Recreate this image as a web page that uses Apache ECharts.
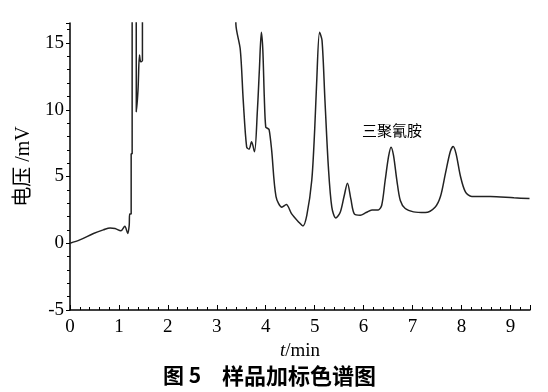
<!DOCTYPE html>
<html>
<head>
<meta charset="utf-8">
<script src="https://cdn.jsdelivr.net/npm/echarts@6/dist/echarts.min.js"></script>
<style>html,body{margin:0;padding:0;background:#fff;}#c{width:548px;height:392px;}</style>
</head>
<body>
<div id="c"></div>
<script>
// Retention time (min)
var timeMin = [0, 0.2, 0.48, 0.68, 0.82, 0.92, 1.04, 1.12, 1.18, 1.21, 1.22, 1.25, 1.25, 1.27, 1.27,
  1.35, 1.355, 1.39, 1.42, 1.445, 1.48, 1.48, 3.35,
  3.39, 3.48, 3.54, 3.61, 3.66, 3.71, 3.77, 3.83, 3.87, 3.91, 3.94, 3.97, 4.00, 4.04, 4.07, 4.12,
  4.21, 4.33, 4.42, 4.53, 4.67, 4.76, 4.84, 4.94, 5.00, 5.04, 5.10, 5.15, 5.21, 5.28, 5.35, 5.43,
  5.52, 5.60, 5.67, 5.74, 5.81, 5.93, 6.05, 6.17, 6.30, 6.37, 6.44, 6.51, 6.56, 6.61, 6.68, 6.75,
  6.85, 7.02, 7.26, 7.46, 7.57, 7.67, 7.77, 7.83, 7.89, 7.98, 8.08, 8.21, 8.59, 9.07, 9.39];
// Detector voltage (mV); values above the axis range are off-scale peaks
var voltage = [0, 0.25, 0.73, 1.0, 1.15, 1.1, 0.93, 1.28, 0.73, 1.35, 2.2, 2.2, 6.7, 6.7, 30,
  30, 9.85, 11.5, 14.1, 13.6, 13.7, 30, 30,
  16.4, 14.5, 10.7, 7.2, 7.05, 7.6, 6.85, 10.0, 13.0, 15.8, 14.5, 11.0, 8.7, 8.6, 8.5, 7.0,
  3.5, 2.7, 2.9, 2.2, 1.6, 1.3, 2.1, 4.7, 8.5, 12.0, 15.8, 15.2, 10.7, 5.7, 2.7, 1.9,
  2.3, 3.5, 4.5, 3.3, 2.2, 2.1, 2.3, 2.5, 2.5, 2.85, 4.7, 6.5, 7.2, 6.6, 4.7, 3.2,
  2.6, 2.35, 2.3, 2.7, 3.5, 5.2, 6.85, 7.25, 6.7, 5.0, 3.85, 3.5, 3.5, 3.4, 3.35];
var xTicks = [0, 1, 2, 3, 4, 5, 6, 7, 8, 9];
var yTicks = [-5, 0, 5, 10, 15];
var peakLabel = '三聚氰胺';

var serif = '"Liberation Serif", "Times New Roman", "Noto Sans CJK SC", serif';
var chart = echarts.init(document.getElementById('c'));
chart.setOption({
  animation: false,
  grid: {left: 70, right: 18, top: 23, bottom: 82},
  xAxis: {
    type: 'value', min: 0, max: 9.4, interval: 1,
    name: '{i|t}/min', nameLocation: 'middle', nameGap: 31,
    nameTextStyle: {fontFamily: serif, fontSize: 19, color: '#000',
      rich: {i: {fontFamily: serif, fontSize: 19, fontStyle: 'italic', color: '#000'}}},
    axisLine: {show: true, onZero: false, lineStyle: {color: '#000', width: 1.5}},
    axisTick: {show: true, inside: true, length: 5, lineStyle: {color: '#000'}},
    minorTick: {show: true, splitNumber: 5, length: 3, lineStyle: {color: '#000'}},
    axisLabel: {fontFamily: serif, fontSize: 19, color: '#000', margin: 8,
      formatter: function (v) { return xTicks.indexOf(v) >= 0 ? String(v) : ''; }},
    splitLine: {show: false}
  },
  yAxis: {
    type: 'value', min: -5, max: 16.5, interval: 5,
    name: '电压 /mV', nameLocation: 'middle', nameGap: 33, nameRotate: 90,
    nameTextStyle: {fontFamily: serif, fontSize: 20, color: '#000'},
    axisLine: {show: true, onZero: false, lineStyle: {color: '#000', width: 1.5}},
    axisTick: {show: true, inside: false, length: 4, lineStyle: {color: '#000'}},
    minorTick: {show: true, splitNumber: 5, length: 3, lineStyle: {color: '#000'}},
    axisLabel: {fontFamily: serif, fontSize: 19, color: '#000', margin: 6,
      formatter: function (v) { return yTicks.indexOf(v) >= 0 ? String(v) : ''; }},
    splitLine: {show: false}
  },
  graphic: [
    {type: 'text', left: 362, top: 123, style: {text: peakLabel, font: '15px "Noto Sans CJK SC"', fill: '#000'}},
    {type: 'text', left: 163, top: 365, style: {text: '图 5', font: 'bold 21px "Noto Sans CJK SC"', fill: '#000'}},
    {type: 'text', left: 222, top: 365, style: {text: '样品加标色谱图', font: 'bold 22px "Noto Sans CJK SC"', fill: '#000'}}
  ],
  series: [{
    type: 'line', showSymbol: false, clip: true,
    smooth: 0.3,
    data: timeMin.map(function (t, i) { return [t, voltage[i]]; }),
    lineStyle: {color: '#222', width: 1.5}
  }]
});
</script>
</body>
</html>
